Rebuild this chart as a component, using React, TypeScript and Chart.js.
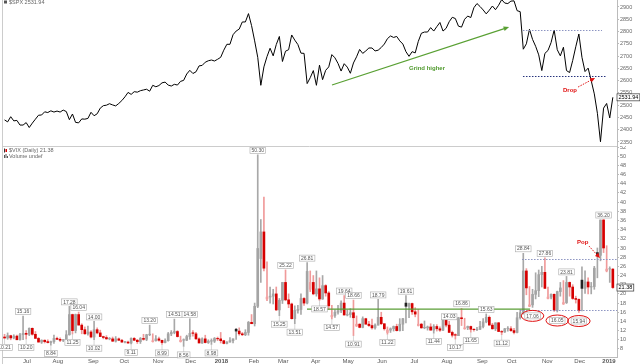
import React, { useEffect, useRef } from 'react';
import { Chart, registerables } from 'chart.js';

Chart.register(...registerables);

// ---- DATA (2-trading-day samples, Jun 12 2017 .. Jan 4 2019) ----
const spxClose = [
  2440, 2432, 2453, 2436, 2438, 2419, 2419, 2429, 2409, 2427,
  2443, 2459, 2460, 2473, 2470, 2477, 2472, 2476, 2472, 2480,
  2474, 2441, 2464, 2430, 2428, 2444, 2443, 2446, 2471, 2457,
  2465, 2488, 2498, 2500, 2506, 2501, 2497, 2507, 2519, 2534,
  2552, 2544, 2555, 2553, 2559, 2562, 2565, 2557, 2581, 2575,
  2580, 2591, 2594, 2582, 2578, 2585, 2582, 2597, 2601, 2627,
  2642, 2629, 2636, 2660, 2662, 2675, 2681, 2684, 2680, 2687,
  2695, 2724, 2748, 2748, 2787, 2802, 2810, 2839, 2839, 2873,
  2824, 2762, 2695, 2581, 2656, 2698, 2732, 2701, 2747, 2780,
  2678, 2720, 2726, 2786, 2765, 2747, 2712, 2711, 2588, 2612,
  2641, 2581, 2663, 2604, 2642, 2656, 2706, 2693, 2670, 2639,
  2669, 2655, 2630, 2672, 2697, 2727, 2711, 2721, 2733, 2733,
  2721, 2724, 2735, 2749, 2771, 2782, 2776, 2780, 2762, 2749,
  2718, 2699, 2718, 2713, 2760, 2793, 2798, 2798, 2816, 2802,
  2820, 2837, 2802, 2813, 2840, 2858, 2853, 2822, 2818, 2850,
  2863, 2857, 2897, 2914, 2902, 2888, 2872, 2887, 2904, 2889,
  2907, 2930, 2916, 2914, 2924, 2925, 2885, 2881, 2728, 2750,
  2809, 2768, 2740, 2705, 2641, 2711, 2723, 2755, 2806, 2726,
  2701, 2736, 2641, 2633, 2682, 2738, 2790, 2695, 2637, 2651,
  2600, 2546, 2467, 2351, 2488, 2507, 2448, 2532,
];

const vixOpen = [
  10.6, 10.4, 10.9, 10.4, 10.8, 10.0, 11.1, 11.4, 11.2, 12.5,
  11.2, 10.3, 9.5, 9.9, 9.6, 9.4, 9.6, 10.3, 10.1, 9.9,
  10.0, 11.1, 15.5, 12.0, 15.5, 13.2, 12.2, 11.3, 11.7, 10.6,
  12.2, 11.5, 10.7, 10.5, 10.2, 10.2, 9.7, 10.2, 9.9, 9.5,
  9.5, 9.3, 10.3, 9.9, 9.6, 10.3, 10.1, 11.1, 9.6, 9.8,
  10.2, 9.9, 9.4, 9.8, 11.3, 11.6, 11.8, 9.6, 9.9, 9.9,
  10.7, 11.4, 11.3, 10.2, 9.3, 10.2, 9.4, 9.7, 9.7, 10.3,
  10.2, 9.8, 9.2, 9.5, 9.8, 12.3, 11.9, 11.3, 11.1, 11.6,
  13.8, 13.5, 17.3, 27.7, 33.5, 18.9, 19.3, 19.5, 20.0, 16.5,
  18.6, 22.5, 18.7, 17.8, 14.6, 16.4, 16.6, 19.0, 18.0, 21.0,
  22.5, 20.0, 21.1, 18.9, 21.8, 20.2, 15.0, 15.3, 16.0, 16.3,
  18.0, 15.4, 15.5, 15.9, 13.0, 13.4, 12.7, 14.6, 13.4, 13.1,
  12.6, 13.2, 14.9, 13.5, 11.6, 12.1, 12.4, 12.9, 12.0, 13.4,
  18.0, 17.3, 17.9, 16.1, 13.1, 13.4, 12.6, 12.6, 12.8, 12.1,
  12.9, 12.4, 12.1, 14.3, 13.2, 11.6, 11.0, 10.9, 14.8, 12.4,
  12.6, 12.9, 12.3, 12.2, 12.3, 12.9, 13.9, 14.9, 13.2, 12.4,
  13.7, 11.8, 11.7, 12.4, 12.4, 12.0, 11.6, 14.8, 15.9, 25.0,
  17.3, 17.6, 19.9, 20.7, 24.2, 24.7, 19.0, 19.3, 19.9, 16.4,
  20.5, 17.8, 18.1, 22.5, 21.5, 19.0, 18.8, 23.0, 21.2, 22.6,
  21.5, 21.6, 29.0, 28.4, 36.1, 25.0, 25.4, 25.4,
];

const vixHigh = [
  11.2, 11.5, 11.0, 11.1, 11.0, 11.4, 15.16, 12.0, 12.6, 12.6,
  11.8, 10.5, 10.0, 10.0, 10.0, 9.7, 11.0, 10.6, 10.4, 10.1,
  12.0, 17.28, 15.6, 15.6, 16.04, 13.5, 12.8, 13.0, 12.0, 14.0,
  12.6, 12.1, 10.8, 10.9, 10.5, 10.6, 10.7, 10.4, 10.1, 9.6,
  9.7, 10.4, 10.5, 10.1, 10.5, 11.2, 11.2, 13.2, 11.3, 10.9,
  10.6, 9.9, 10.2, 11.6, 12.0, 14.51, 12.0, 10.8, 10.2, 11.0,
  14.58, 12.0, 11.6, 10.4, 10.4, 11.0, 10.0, 10.2, 10.5, 10.6,
  11.6, 9.9, 9.6, 10.5, 10.2, 12.5, 12.6, 11.6, 12.2, 14.0,
  15.5, 18.0, 50.3, 36.2, 41.1, 27.0, 21.5, 21.0, 21.5, 19.0,
  22.5, 25.22, 20.0, 18.0, 17.4, 17.5, 20.0, 19.2, 26.81, 25.0,
  24.0, 25.0, 23.5, 24.0, 22.0, 20.5, 17.5, 16.5, 17.5, 18.5,
  19.64, 16.5, 16.8, 18.66, 15.2, 13.5, 15.0, 14.7, 14.0, 14.5,
  13.5, 18.79, 16.0, 13.5, 12.8, 12.6, 13.0, 13.4, 14.6, 14.7,
  19.61, 18.0, 18.0, 17.0, 16.6, 13.6, 14.1, 13.0, 13.5, 13.3,
  13.3, 12.8, 14.6, 14.5, 14.03, 11.9, 11.3, 14.9, 16.86, 14.7,
  13.0, 13.0, 12.4, 12.7, 14.0, 14.6, 15.63, 15.2, 13.6, 13.7,
  13.8, 12.0, 12.5, 12.9, 12.9, 12.5, 16.0, 16.5, 28.84, 25.5,
  21.6, 21.0, 24.6, 25.2, 26.0, 27.86, 21.5, 20.0, 20.0, 20.6,
  22.5, 22.9, 23.81, 22.6, 22.0, 19.5, 18.9, 25.9, 25.0, 23.5,
  22.5, 26.0, 30.0, 36.1, 36.2, 30.5, 25.9, 25.5,
];

const vixLow = [
  10.21, 10.1, 10.0, 10.2, 10.0, 9.9, 10.0, 10.2, 10.9, 11.0,
  10.3, 9.5, 9.2, 9.3, 9.3, 8.84, 9.2, 10.0, 9.6, 9.6,
  9.9, 11.0, 11.25, 11.5, 13.2, 11.3, 11.2, 11.0, 10.4, 10.02,
  11.3, 10.7, 10.2, 10.1, 10.0, 9.6, 9.5, 9.8, 9.4, 9.3,
  9.2, 9.11, 9.8, 9.2, 9.2, 9.9, 9.8, 10.9, 9.5, 9.7,
  9.7, 8.99, 9.3, 9.7, 10.9, 11.3, 10.6, 9.5, 8.56, 9.8,
  10.1, 10.8, 10.1, 9.3, 9.2, 9.3, 9.2, 8.98, 9.4, 9.8,
  9.3, 9.1, 9.1, 9.5, 9.3, 10.1, 11.0, 10.9, 10.9, 11.0,
  13.5, 13.0, 17.0, 22.5, 25.0, 18.5, 18.0, 17.8, 16.4, 15.25,
  17.9, 18.5, 17.0, 14.5, 13.51, 15.8, 15.5, 17.5, 17.8, 20.5,
  19.8, 19.5, 18.57, 18.8, 19.5, 16.6, 14.57, 14.9, 15.6, 15.9,
  15.4, 15.2, 14.9, 10.91, 12.9, 12.6, 12.6, 13.4, 12.9, 12.3,
  12.3, 13.2, 13.3, 12.1, 11.22, 11.6, 11.9, 11.9, 11.9, 12.0,
  13.7, 14.8, 15.5, 15.0, 13.0, 12.5, 12.4, 12.1, 12.1, 11.44,
  11.9, 11.8, 12.0, 12.8, 11.6, 10.6, 10.17, 10.9, 13.1, 12.3,
  12.2, 11.65, 11.9, 12.0, 12.2, 12.6, 13.7, 13.2, 12.3, 12.0,
  11.8, 11.12, 11.6, 11.9, 11.8, 11.3, 11.5, 14.5, 15.6, 19.8,
  17.2, 17.06, 18.9, 19.4, 21.5, 21.2, 18.9, 18.9, 16.2, 16.05,
  19.5, 17.7, 17.9, 19.5, 18.8, 18.0, 15.94, 16.3, 20.1, 20.0,
  20.0, 21.0, 23.5, 27.2, 29.0, 24.8, 22.5, 21.2,
];

const vixClose = [
  10.4, 10.9, 10.4, 10.8, 10.0, 11.1, 11.4, 11.2, 12.5, 11.2,
  10.3, 9.5, 9.9, 9.6, 9.4, 9.6, 10.3, 10.1, 9.9, 10.0,
  11.1, 15.5, 12.0, 15.5, 13.2, 12.2, 11.3, 11.7, 10.6, 12.2,
  11.5, 10.7, 10.5, 10.2, 10.2, 9.7, 10.2, 9.9, 9.5, 9.5,
  9.3, 10.3, 9.9, 9.6, 10.3, 10.1, 11.1, 11.2, 9.8, 10.2,
  9.9, 9.4, 9.8, 11.3, 11.6, 11.8, 10.7, 9.9, 9.9, 10.7,
  11.4, 11.3, 10.2, 9.3, 10.2, 9.4, 9.7, 9.7, 10.3, 10.2,
  9.8, 9.2, 9.5, 9.8, 10.2, 11.9, 11.3, 11.1, 11.6, 13.8,
  13.5, 17.3, 29.9, 33.5, 25.6, 19.3, 19.5, 20.0, 16.5, 18.6,
  22.5, 18.7, 17.8, 14.6, 16.4, 16.6, 19.0, 18.0, 24.9, 22.5,
  20.0, 21.1, 18.9, 21.8, 20.2, 17.4, 15.3, 16.0, 16.3, 18.0,
  15.4, 15.5, 15.9, 14.8, 13.4, 12.7, 14.6, 13.4, 13.1, 12.6,
  13.2, 14.9, 13.5, 12.4, 12.1, 12.4, 12.9, 12.0, 13.4, 14.6,
  17.3, 17.9, 16.1, 15.6, 13.4, 12.6, 12.6, 12.8, 12.1, 12.9,
  12.4, 12.1, 14.3, 13.2, 11.6, 11.0, 10.9, 14.8, 14.6, 12.6,
  12.9, 12.3, 12.2, 12.3, 12.9, 13.9, 14.9, 13.2, 12.4, 13.7,
  11.8, 11.7, 12.4, 12.4, 12.0, 11.6, 14.8, 15.9, 25.0, 21.3,
  17.6, 19.9, 20.7, 24.2, 24.7, 21.2, 19.3, 19.9, 16.4, 20.5,
  21.3, 18.1, 22.5, 21.5, 19.0, 18.8, 16.4, 21.2, 22.6, 21.5,
  21.6, 25.6, 28.4, 36.1, 30.0, 25.4, 25.45, 21.38,
];

// trading-day index of first session of each month (day 0 = Jun 12 2017)
const monthTickDay = [15, 35, 58, 78, 100, 121, 141, 162, 181, 202, 223, 245, 266, 287, 310, 329, 352, 373, 392];
const monthTickLabels = ['Jul', 'Aug', 'Sep', 'Oct', 'Nov', 'Dec', '2018', 'Feb', 'Mar', 'Apr', 'May', 'Jun', 'Jul', 'Aug', 'Sep', 'Oct', 'Nov', 'Dec', '2019'];
const spxTicks = [2350, 2400, 2450, 2500, 2550, 2600, 2650, 2700, 2750, 2800, 2850, 2900];
const vixTicks = [8, 10, 12, 14, 16, 18, 20, 22, 24, 26, 28, 30, 32, 34, 36, 38, 40, 42, 44, 46, 48, 50, 52];

const vixPeakIdx = [6, 21, 24, 29, 47, 55, 60, 82, 91, 98, 110, 113, 121, 130, 144, 148, 156, 168, 175, 182, 194];
const vixTroughIdx = [0, 7, 15, 22, 29, 41, 51, 58, 67, 89, 94, 102, 106, 113, 124, 139, 146, 151, 161];
const vixCircledIdx = [171, 179, 186];

const spxLast = 2531.94;
const vixLast = 21.38;

// ---- annotations (data coordinates: trading-day index, value) ----
const spxLevels = [
  { v: 2806, from: 336.3, to: 387.5, color: '#8c94c2' },
  { v: 2619, from: 336.3, to: 390.7, color: '#26337c' },
];
const vixLevels = [
  { v: 27.6, from: 335.7, to: 397.2, color: '#8c94c2' },
  { v: 16.5, from: 334.4, to: 397.2, color: '#8c94c2' },
];
const vixTrend = { v: 16.7, from: 196.4, to: 340.9 };
const grindArrow = { x0: 212.6, y0: 2582, x1: 327.3, y1: 2818.5 };
const grindText = { x: 262.5, y: 2651.5, text: 'Grind higher' };
const dropArrow = { x0: 372.0, y0: 2574, x1: 383.0, y1: 2611 };
const dropText = { x: 362.2, y: 2562, text: 'Drop' };
const popArrow = { x0: 379.1, y0: 30.4, x1: 386.2, y1: 27.8 };
const popText = { x: 371.3, y: 31.3, text: 'Pop' };

const X_MIN = -0.5;
const X_MAX = 397.2;
const FONT = '"Liberation Sans", Arial, sans-serif';
const dayOf = (s: number) => 2 * s + 0.5;

function rightAxis(min: number, max: number, ticks: number[]): any {
  return {
    type: 'linear',
    position: 'right',
    min,
    max,
    afterBuildTicks: (s: any) => { s.ticks = ticks.map((v) => ({ value: v })); },
    afterFit: (s: any) => { s.width = 23; s.paddingTop = 0; s.paddingBottom = 0; },
    grid: { drawOnChartArea: false, drawTicks: true, tickLength: 2, color: '#bbb' },
    border: { display: true, color: '#bbb' },
    ticks: { autoSkip: false, padding: 1, color: '#666', font: { size: 5.5, family: FONT }, callback: (v: any) => String(v) },
  };
}

function drawArrow(ctx: any, x0: number, y0: number, x1: number, y1: number, color: string, width: number, dash: number[], head: number) {
  ctx.save();
  const ang = Math.atan2(y1 - y0, x1 - x0);
  ctx.strokeStyle = color;
  ctx.lineWidth = width;
  ctx.setLineDash(dash);
  ctx.beginPath();
  ctx.moveTo(x0, y0);
  ctx.lineTo(x1 - Math.cos(ang) * head * 0.7, y1 - Math.sin(ang) * head * 0.7);
  ctx.stroke();
  ctx.setLineDash([]);
  ctx.fillStyle = color;
  ctx.beginPath();
  ctx.moveTo(x1, y1);
  ctx.lineTo(x1 - head * Math.cos(ang - 0.42), y1 - head * Math.sin(ang - 0.42));
  ctx.lineTo(x1 - head * Math.cos(ang + 0.42), y1 - head * Math.sin(ang + 0.42));
  ctx.closePath();
  ctx.fill();
  ctx.restore();
}

function boxLabel(ctx: any, text: string, cx: number, cy: number, border: string, color: string) {
  ctx.save();
  ctx.font = `5px ${FONT}`;
  const w = ctx.measureText(text).width + 3;
  const h = 6;
  ctx.fillStyle = '#fff';
  ctx.fillRect(cx - w / 2, cy - h / 2, w, h);
  if (border) {
    ctx.strokeStyle = border;
    ctx.lineWidth = 0.6;
    ctx.strokeRect(cx - w / 2, cy - h / 2, w, h);
  }
  ctx.fillStyle = color;
  ctx.textAlign = 'center';
  ctx.textBaseline = 'middle';
  ctx.fillText(text, cx, cy + 0.3);
  ctx.restore();
  return w;
}

function hLine(ctx: any, x0: number, x1: number, y: number, color: string, width: number, dash: number[]) {
  ctx.save();
  ctx.strokeStyle = color;
  ctx.lineWidth = width;
  ctx.setLineDash(dash);
  ctx.beginPath();
  ctx.moveTo(x0, y);
  ctx.lineTo(x1, y);
  ctx.stroke();
  ctx.restore();
}

function valueBox(ctx: any, text: string, left: number, cy: number) {
  ctx.save();
  ctx.font = `5.5px ${FONT}`;
  const w = ctx.measureText(text).width + 3;
  ctx.fillStyle = '#fff';
  ctx.fillRect(left, cy - 3.5, w, 7);
  ctx.strokeStyle = '#333';
  ctx.lineWidth = 0.7;
  ctx.strokeRect(left, cy - 3.5, w, 7);
  ctx.fillStyle = '#000';
  ctx.textAlign = 'left';
  ctx.textBaseline = 'middle';
  ctx.fillText(text, left + 1.5, cy + 0.3);
  ctx.restore();
}

const topAnno = {
  id: 'topAnno',
  afterDraw(chart: any) {
    const ctx = chart.ctx;
    const xs = chart.scales.x;
    const ys = chart.scales.y;
    const X = (v: number) => xs.getPixelForValue(v);
    const Y = (v: number) => ys.getPixelForValue(v);
    ctx.save();
    // left border
    ctx.strokeStyle = '#ccc';
    ctx.lineWidth = 1;
    ctx.beginPath();
    ctx.moveTo(2.5, 0);
    ctx.lineTo(2.5, chart.height);
    ctx.stroke();
    // legend
    ctx.fillStyle = '#555';
    ctx.fillRect(4, 0.5, 3, 3);
    ctx.font = `5.5px ${FONT}`;
    ctx.textBaseline = 'middle';
    ctx.textAlign = 'left';
    ctx.fillStyle = '#666';
    ctx.fillText(`$SPX ${spxLast.toFixed(2)}`, 9, 2.2);
    // dotted levels
    spxLevels.forEach((L) => hLine(ctx, X(L.from), X(L.to), Math.round(Y(L.v)) + 0.5, L.color, 1, [1.5, 1.5]));
    // grind higher arrow
    drawArrow(ctx, X(grindArrow.x0), Y(grindArrow.y0), X(grindArrow.x1), Y(grindArrow.y1), '#59a033', 1.2, [], 6);
    ctx.font = `bold 6px ${FONT}`;
    ctx.fillStyle = '#4f9a2c';
    ctx.textAlign = 'left';
    ctx.fillText(grindText.text, X(grindText.x), Y(grindText.y));
    // drop
    drawArrow(ctx, X(dropArrow.x0), Y(dropArrow.y0), X(dropArrow.x1), Y(dropArrow.y1), '#e01010', 1, [1.5, 1.2], 5.5);
    ctx.fillStyle = '#e01010';
    ctx.fillText(dropText.text, X(dropText.x), Y(dropText.y));
    // last value box
    valueBox(ctx, spxLast.toFixed(2), 617, Y(spxLast));
    ctx.restore();
  },
};

const botAnno = {
  id: 'botAnno',
  afterDraw(chart: any) {
    const ctx = chart.ctx;
    const xs = chart.scales.x;
    const ys = chart.scales.y;
    const X = (v: number) => xs.getPixelForValue(v);
    const Y = (v: number) => ys.getPixelForValue(v);
    ctx.save();
    // separator + left border
    hLine(ctx, 2, 617, 0.5, '#ccc', 1, []);
    ctx.strokeStyle = '#ccc';
    ctx.beginPath();
    ctx.moveTo(2.5, 0);
    ctx.lineTo(2.5, chart.height);
    ctx.stroke();
    // legends
    ctx.fillStyle = '#333';
    ctx.fillRect(4, 2.5, 1, 4);
    ctx.fillStyle = '#d60000';
    ctx.fillRect(5.5, 3, 1.5, 3);
    ctx.fillStyle = '#555';
    ctx.fillRect(4, 9, 1, 3);
    ctx.fillRect(5.5, 8, 1, 4);
    ctx.fillRect(7, 10, 1, 2);
    ctx.font = `5.5px ${FONT}`;
    ctx.textBaseline = 'middle';
    ctx.textAlign = 'left';
    ctx.fillStyle = '#666';
    ctx.fillText(`$VIX (Daily) ${vixLast.toFixed(2)}`, 9, 4.5);
    ctx.fillText('Volume undef', 9, 10);
    // trend & levels
    hLine(ctx, X(vixTrend.from), X(vixTrend.to), Y(vixTrend.v), '#5a9e36', 1.2, []);
    vixLevels.forEach((L) => hLine(ctx, X(L.from), X(L.to), Math.round(Y(L.v)) + 0.5, L.color, 1, [1.5, 1.5]));
    // peak labels
    vixPeakIdx.forEach((s) => {
      const x = X(dayOf(s));
      const yh = Y(vixHigh[s]);
      const cy = yh - 4.5;
      boxLabel(ctx, vixHigh[s].toFixed(2), x, cy, '#aaa', '#555');
    });
    vixTroughIdx.forEach((s) => {
      const x = X(dayOf(s));
      const yl = Y(vixLow[s]);
      const cy = yl + 8.5;
      hLine(ctx, x, x, 0, '#fff', 0, []);
      ctx.strokeStyle = '#bbb';
      ctx.lineWidth = 0.6;
      ctx.beginPath();
      ctx.moveTo(x, yl);
      ctx.lineTo(x, cy - 3);
      ctx.stroke();
      boxLabel(ctx, vixLow[s].toFixed(2), x, cy, '#aaa', '#555');
    });
    vixCircledIdx.forEach((s) => {
      const x = X(dayOf(s));
      const yl = Y(vixLow[s]);
      const cy = yl + 8.5;
      const w = boxLabel(ctx, vixLow[s].toFixed(2), x, cy, '#aaa', '#555');
      ctx.strokeStyle = '#e01010';
      ctx.lineWidth = 1;
      ctx.beginPath();
      ctx.ellipse(x, cy, w / 2 + 3.5, 5.5, 0, 0, Math.PI * 2);
      ctx.stroke();
    });
    // pop
    drawArrow(ctx, X(popArrow.x0), Y(popArrow.y0), X(popArrow.x1), Y(popArrow.y1), '#e01010', 1, [1.5, 1.2], 5.5);
    ctx.font = `bold 6px ${FONT}`;
    ctx.fillStyle = '#e01010';
    ctx.textAlign = 'left';
    ctx.textBaseline = 'middle';
    ctx.fillText(popText.text, X(popText.x), Y(popText.y));
    // last value box
    valueBox(ctx, vixLast.toFixed(2), 617, Y(vixLast));
    ctx.restore();
  },
};

export default function App() {
  const topRef = useRef<HTMLCanvasElement>(null);
  const botRef = useRef<HTMLCanvasElement>(null);

  useEffect(() => {
    Chart.defaults.font.family = FONT;
    const prev = vixClose.map((c, i) => (i === 0 ? vixOpen[0] : vixClose[i - 1]));
    const isUp = vixClose.map((c, i) => c >= prev[i]);
    const bodyColors = vixClose.map((c, i) =>
      c >= vixOpen[i] ? (isUp[i] ? '#a4a4a4' : '#f2a2a2') : (isUp[i] ? '#222222' : '#d60000'));
    const wickColors = isUp.map((u) => (u ? '#a8a8a8' : '#f09a9a'));

    const top = new Chart(topRef.current as HTMLCanvasElement, {
      type: 'line',
      data: {
        datasets: [{
          data: spxClose.map((v, s) => ({ x: dayOf(s), y: v })),
          borderColor: '#000',
          borderWidth: 1,
          pointRadius: 0,
          tension: 0,
          fill: false,
        }],
      },
      options: {
        responsive: false,
        animation: false,
        events: [],
        layout: { padding: { left: 3, right: 0, top: 0, bottom: 0 } },
        plugins: { legend: { display: false }, tooltip: { enabled: false } },
        scales: {
          x: { type: 'linear', display: false, min: X_MIN, max: X_MAX },
          y: rightAxis(2333.7, 2928.5, spxTicks),
        },
      } as any,
      plugins: [topAnno],
    });

    const bot = new Chart(botRef.current as HTMLCanvasElement, {
      type: 'bar',
      data: {
        datasets: [
          {
            data: vixOpen.map((o, s) => ({ x: dayOf(s), y: [o, Math.abs(vixClose[s] - o) < 0.1 ? o + 0.12 : vixClose[s]] })),
            backgroundColor: bodyColors,
            borderWidth: 0,
            barThickness: 2,
            grouped: false,
          },
          {
            data: vixLow.map((l, s) => ({ x: dayOf(s), y: [l, vixHigh[s]] })),
            backgroundColor: wickColors,
            borderWidth: 0,
            barThickness: 1,
            grouped: false,
          },
        ],
      } as any,
      options: {
        responsive: false,
        animation: false,
        events: [],
        layout: { padding: { left: 3, right: 0, top: 0, bottom: 0 } },
        plugins: { legend: { display: false }, tooltip: { enabled: false } },
        scales: {
          x: {
            type: 'linear',
            min: X_MIN,
            max: X_MAX,
            offset: false,
            afterBuildTicks: (s: any) => { s.ticks = monthTickDay.map((v) => ({ value: v })); },
            afterFit: (s: any) => { s.height = 7; s.paddingLeft = 0; s.paddingRight = 0; },
            grid: { display: false, drawTicks: false },
            border: { display: true, color: '#bbb' },
            ticks: {
              autoSkip: false,
              maxRotation: 0,
              padding: 1,
              color: '#555',
              font: (c: any) => {
                const lab = c.tick ? monthTickLabels[monthTickDay.indexOf(c.tick.value)] : '';
                return { size: 6, family: FONT, weight: lab && lab.startsWith('20') ? 'bold' : 'normal' };
              },
              callback: (v: any) => monthTickLabels[monthTickDay.indexOf(v)] ?? '',
            },
          },
          y: rightAxis(6.25, 52.22, vixTicks),
        },
      } as any,
      plugins: [botAnno],
    });

    return () => {
      top.destroy();
      bot.destroy();
    };
  }, []);

  return (
    <div style={{ position: 'absolute', left: 0, top: 0, width: 640, height: 364, background: '#fff', overflow: 'hidden' }}>
      <canvas ref={topRef} width={640} height={146} style={{ position: 'absolute', left: 0, top: 0, width: 640, height: 146 }} />
      <canvas ref={botRef} width={640} height={218} style={{ position: 'absolute', left: 0, top: 146, width: 640, height: 218 }} />
    </div>
  );
}
